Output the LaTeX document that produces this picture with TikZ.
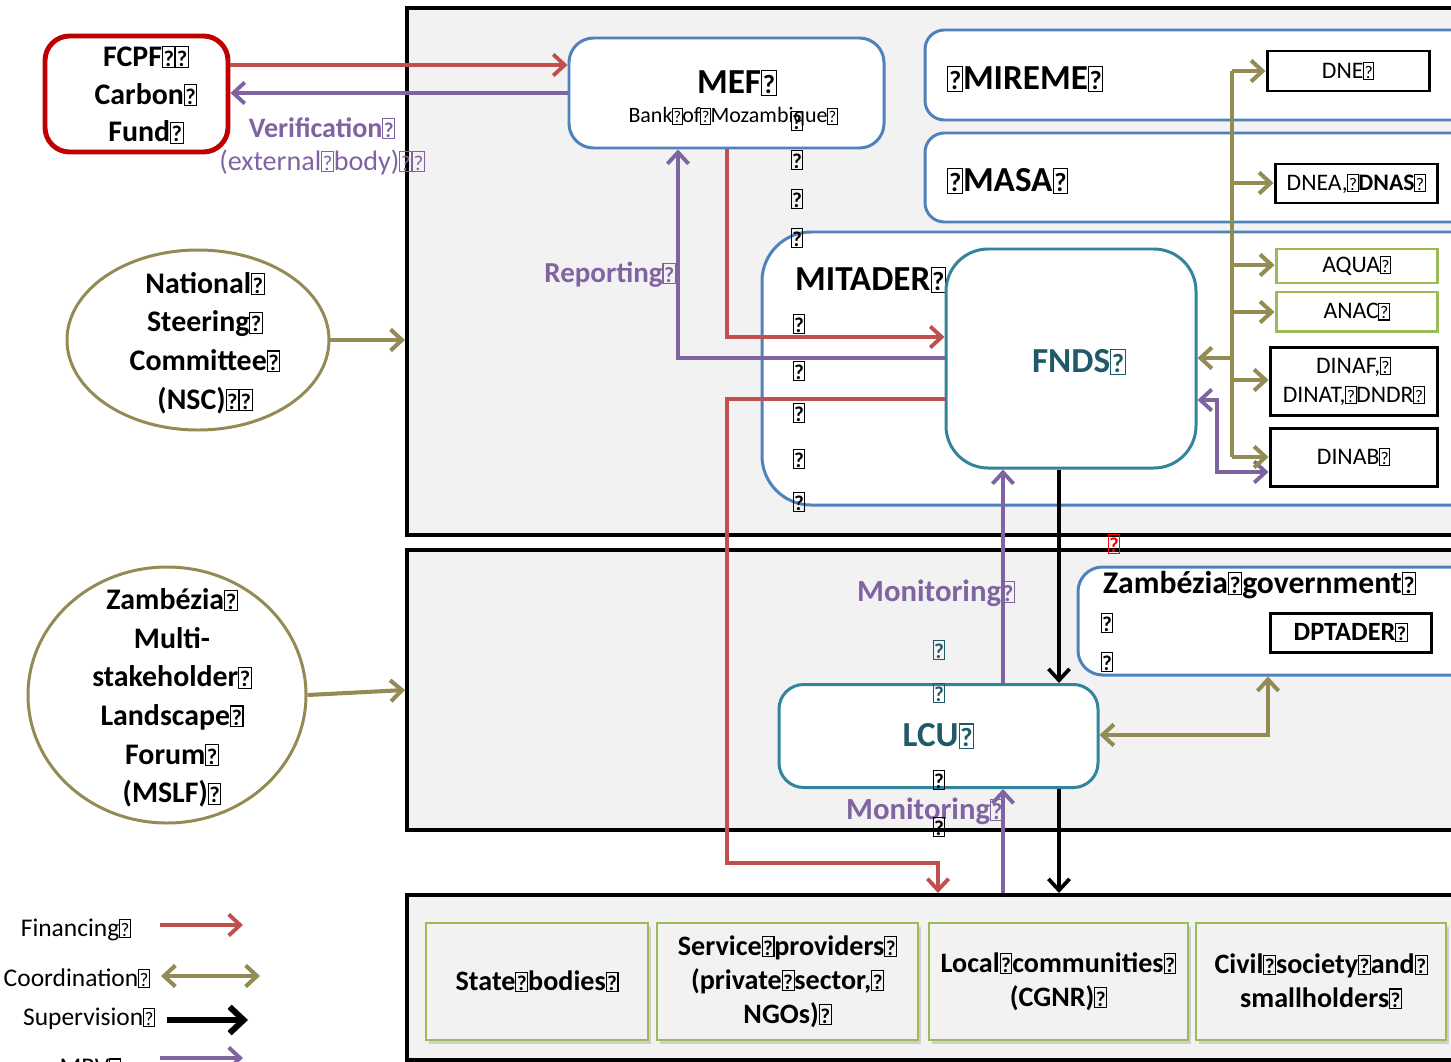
\documentclass[tikz,border=0pt]{standalone}
\usepackage{fontspec}
\setmainfont{Carlito}
\usepackage{graphicx}
\usetikzlibrary{arrows.meta,shapes.geometric,shadows}
\definecolor{panelgray}{HTML}{F2F2F2}
\definecolor{fcred}{HTML}{C00000}
\definecolor{finred}{HTML}{C0504D}
\definecolor{mrvpurple}{HTML}{8064A2}
\definecolor{coordolive}{HTML}{948A54}
\definecolor{boxblue}{HTML}{4F81BD}
\definecolor{boxteal}{HTML}{31849B}
\definecolor{tealtext}{HTML}{215968}
\definecolor{boxgreen}{HTML}{9BBB59}
\newcommand\qm{\makebox[0.45em]{\setlength\fboxsep{0.3pt}\setlength\fboxrule{0.6pt}\fbox{\rule{0pt}{0.62em}\scalebox{0.75}{?}}}}
\newcommand\fsz[2]{\fontsize{#1}{#2}\selectfont}
\tikzset{
  px/.style 2 args={minimum width=#1*0.02cm, minimum height=#2*0.02cm},
  panel/.style={draw=black, line width=2.3pt, fill=panelgray, inner sep=0pt},
  bluebox/.style={draw=boxblue, line width=1.7pt, fill=white, inner sep=0pt},
  tealbox/.style={draw=boxteal, line width=1.7pt, fill=white, inner sep=0pt, align=center},
  blackbox/.style={draw=black, line width=1.7pt, fill=white, inner sep=0pt, align=center},
  greenbox/.style={draw=boxgreen, line width=1.4pt, fill=panelgray, inner sep=0pt, align=center,
    drop shadow={shadow xshift=1.5pt, shadow yshift=-2.5pt, opacity=0.3}},
  ovalbox/.style={ellipse, draw=coordolive, line width=1.7pt, fill=white, inner sep=0pt},
  bigtxt/.style={font=\bfseries\fsz{17}{22}, align=center},
  headtxt/.style={font=\bfseries\fsz{20}{24}},
  subtxt/.style={font=\fsz{13.5}{16.4}},
  montxt/.style={font=\bfseries\fsz{17.5}{21}, text=mrvpurple},
  legtxt/.style={font=\fsz{14.5}{17}, anchor=east},
  qmark/.style={font=\bfseries\fsz{16}{20}},
  fin/.style={draw=finred, line width=2.2pt},
  mrv/.style={draw=mrvpurple, line width=2.2pt},
  coord/.style={draw=coordolive, line width=2.3pt},
  sup/.style={draw=black, line width=2.1pt},
}
\begin{document}
\begin{tikzpicture}[x=0.02cm,y=-0.02cm, >={Straight Barb[length=6.5pt,width=12pt]}]
\useasboundingbox (0,0) rectangle (1451,1062);
\fill[white] (0,0) rectangle (1451,1062);

% panels
\node[panel, px={1090}{527}] (p1) at (952,271.5) {};
\node[panel, px={1090}{280}] (p2) at (952,690) {};
\node[panel, px={1090}{165}] (p3) at (952,977.5) {};

% FCPF
\node[draw=fcred, line width=2.8pt, rounded corners=14pt, fill=white, px={183}{116}] (fcpf) at (136.5,94) {};
\node[bigtxt, font=\bfseries\fsz{17}{21.5}] (fcpft) at (146,95) {FCPF\qm\qm\\Carbon\qm\\Fund\qm};
\node[align=center, text=mrvpurple, font=\fsz{16}{18.7}] (verif) at (322,146) {\textbf{Verification\qm}\\(external\qm body)\qm\qm};

% ellipses
\node[ovalbox, px={262}{180}] (nsc) at (198,340) {};
\node[bigtxt] (nsct) at (205,343) {National\qm\\Steering\qm\\Committee\qm\\(NSC)\qm\qm};
\node[ovalbox, px={278}{256}] (mslf) at (167,695) {};
\node[bigtxt] (mslft) at (172,698) {Zambézia\qm\\Multi-\\stakeholder\qm\\Landscape\qm\\Forum\qm\\(MSLF)\qm};

% MEF
\node[bluebox, rounded corners=14pt, px={315}{110}] (mef) at (726.5,93) {};
\node[headtxt] (meft) at (737,83) {MEF\qm};
\node[font=\fsz{12.5}{15}] (bank) at (733,117) {Bank\qm of\qm Mozambique\qm};

% MIREME / MASA
\node[bluebox, rounded corners=11pt, px={560}{90}] (mireme) at (1205,75) {};
\node[headtxt, anchor=west] (miremet) at (941,79) {\qm MIREME\qm};
\node[blackbox, px={162}{40}, subtxt] (dne) at (1348,71) {DNE\qm};
\node[bluebox, rounded corners=11pt, px={560}{89}] (masa) at (1205,177.5) {};
\node[headtxt, anchor=west] (masat) at (941,181) {\qm MASA\qm};
\node[blackbox, px={162}{39}, subtxt] (dnea) at (1356,183.5) {DNEA,\qm\textbf{DNAS}\qm};

% MITADER
\node[bluebox, rounded corners=28pt, px={740}{273}] (mitader) at (1132,368.5) {};
\node[headtxt, anchor=west] (mitadert) at (789,280) {MITADER\qm};
\node[tealbox, rounded corners=24pt, px={250}{219}] (fnds) at (1071,358.5) {};
\node[headtxt, text=tealtext] (fndst) at (1079,362) {FNDS\qm};
\node[draw=boxgreen, line width=1.7pt, fill=white, inner sep=0pt, px={161}{34}, subtxt] (aqua) at (1356.5,266) {AQUA\qm};
\node[draw=boxgreen, line width=1.7pt, fill=white, inner sep=0pt, px={161}{39}, subtxt] (anac) at (1356.5,311.5) {ANAC\qm};
\node[blackbox, px={167}{68}, subtxt] (dinaf) at (1353.5,381) {DINAF,\qm\\DINAT,\qm DNDR\qm};
\node[blackbox, px={167}{58}, subtxt] (dinab) at (1353.5,457) {DINAB\qm};

% Zambezia government
\node[bluebox, rounded corners=14pt, px={410}{108}] (zgov) at (1283,621) {};
\node[font=\bfseries\fsz{18}{22}, anchor=west] (zgovt) at (1097,585) {Zambézia\qm government\qm};
\node[blackbox, px={161}{39}, font=\bfseries\fsz{15}{18}] (dptader) at (1350.5,632.5) {DPTADER\qm};
\node[qmark] (zq1) at (1107,623) {\qm};
\node[qmark] (zq2) at (1107,662) {\qm};

% LCU
\node[tealbox, rounded corners=14pt, px={319}{103}, headtxt, text=tealtext] (lcu) at (938.5,736) {LCU\qm};

% labels
\node[montxt] (mon1) at (936,593) {Monitoring\qm};
\node[montxt] (mon2) at (925,811) {Monitoring\qm};
\node[montxt, font=\bfseries\fsz{16.5}{20}] (rep) at (610,275) {Reporting\qm};

% stray glyph boxes
\node[qmark] (mq1) at (797,121) {\qm};
\node[qmark] (mq2) at (797,160) {\qm};
\node[qmark] (mq3) at (797,199) {\qm};
\node[qmark] (mq4) at (797,238) {\qm};
\node[qmark] (tq1) at (799,324) {\qm};
\node[qmark] (tq2) at (799,371) {\qm};
\node[qmark] (tq3) at (799,413) {\qm};
\node[qmark] (tq4) at (799,459) {\qm};
\node[qmark] (tq5) at (799,502) {\qm};
\node[qmark, text=tealtext] (lq1) at (939,650) {\qm};
\node[qmark, text=tealtext] (lq2) at (939,693) {\qm};
\node[qmark] (lq3) at (939,780) {\qm};
\node[qmark] (lq4) at (939,827) {\qm};
\node[qmark, text=red] (rq) at (1114,544) {\qm};

% bottom boxes
\node[greenbox, px={222}{117}, font=\bfseries\fsz{16}{19.3}] (state) at (537,981.5) {State\qm bodies\qm};
\node[greenbox, px={261}{117}, font=\bfseries\fsz{16}{19.3}] (serv) at (787.5,981.5) {Service\qm providers\qm\\(private\qm sector,\qm\\NGOs)\qm};
\node[greenbox, px={259}{117}, font=\bfseries\fsz{16}{19.3}] (local) at (1058.5,981.5) {Local\qm communities\qm\\(CGNR)\qm};
\node[greenbox, px={250}{117}, font=\bfseries\fsz{16}{19.3}] (civil) at (1321,981.5) {Civil\qm society\qm and\qm\\smallholders\qm};

% legend
\node[legtxt] (lfin) at (137,930) {Financing\qm};
\coordinate (lfin1) at (160,925); \coordinate (lfin2) at (243,925);
\draw[fin,->] (lfin1) -- (lfin2);
\node[legtxt] (lco) at (156,978) {Coordination\qm};
\coordinate (lco1) at (161,976); \coordinate (lco2) at (260,976);
\draw[coord,<->] (lco1) -- (lco2);
\node[legtxt] (lsu) at (161,1019) {Supervision\qm};
\coordinate (lsu1) at (167,1020); \coordinate (lsu2) at (248,1020);
\draw[sup, line width=3.4pt, -{Straight Barb[length=8pt,width=15pt]}] (lsu1) -- (lsu2);
\node[legtxt] (lmrv) at (127,1068) {MRV\qm};
\coordinate (lmrv1) at (160,1058); \coordinate (lmrv2) at (243,1058);
\draw[mrv,->] (lmrv1) -- (lmrv2);

% connectors
\draw[fin,->] (fcpf.east |- 0,65) -- (mef.west |- 0,65);
\draw[mrv,->] (mef.west |- 0,93) -- (fcpf.east |- 0,93);
\draw[coord,->] (nsc.east) -- (p1.west |- nsc.east);
\draw[coord,->] (mslf.east) -- (p2.west |- 0,690);
\draw[fin,->] (mef.south -| 727,0) -- (727,337) -- (fnds.west |- 0,337);
\draw[mrv,->] (fnds.west |- 0,358) -- (678,358) -- (mef.south -| 678,0);
\draw[fin,->] (fnds.west |- 0,399) -- (727,399) -- (727,863) -- (938,863) -- (p3.north -| 938,0);
\draw[mrv,<->] (fnds.east |- 0,400) -- (1217,400) -- (1217,472) -- (dinab.west |- 0,472);
\draw[coord] (1232,457) -- (1232,71);
\draw[coord,->] (1232,71) -- (dne.west |- 0,71);
\draw[coord,->] (1232,183) -- (dnea.west |- 0,183);
\draw[coord,->] (1232,265) -- (aqua.west |- 0,265);
\draw[coord,->] (1232,312) -- (anac.west |- 0,312);
\draw[coord,->] (1232,380) -- (dinaf.west |- 0,380);
\draw[coord,->] (1232,457) -- (dinab.west |- 0,457);
\draw[coord,->] (1232,358) -- (fnds.east |- 0,358);
\draw[sup,->] (fnds.south -| 1059,0) -- (lcu.north -| 1059,0);
\draw[sup,->] (lcu.south -| 1059,0) -- (p3.north -| 1059,0);
\draw[mrv,->] (lcu.north -| 1003,0) -- (fnds.south -| 1003,0);
\draw[mrv,->] (p3.north -| 1003,0) -- (lcu.south -| 1003,0);
\draw[coord,<->] (lcu.east |- 0,735) -- (1268,735) -- (zgov.south -| 1268,0);
\end{tikzpicture}
\end{document}
